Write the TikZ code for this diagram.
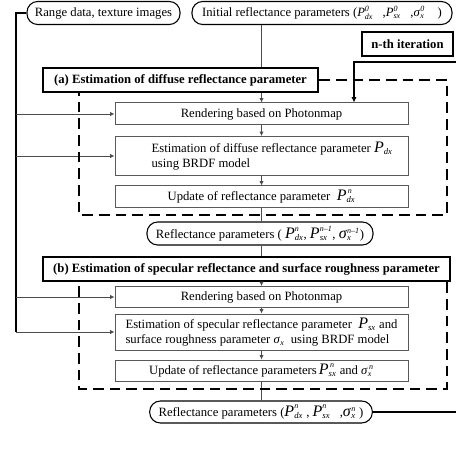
\documentclass[tikz,border=0pt]{standalone}
\usepackage{fontspec}
\setmainfont{Liberation Serif}
\usetikzlibrary{arrows.meta}
% italic symbol with stacked super/subscripts, set in the text font
\newcommand{\rsym}[3]{\ensuremath{\mbox{\textit{#1}}^{\mbox{\fontsize{6}{6}\selectfont\textit{#2}}}_{\mbox{\fontsize{6}{6}\selectfont\textit{#3}}}}}
\newcommand{\bigsym}[3]{\ensuremath{\mbox{\fontsize{12}{12}\selectfont\textit{#1}}^{\mbox{\fontsize{6}{6}\selectfont\textit{#2}}}_{\mbox{\fontsize{6.5}{6.5}\selectfont\textit{#3}}}}}
\begin{document}
\begin{tikzpicture}[x=0.75pt,y=-0.75pt,
  txt/.style={font=\fontsize{9.5}{12}\selectfont},
  flow/.style={txt, draw=black!65, line width=0.75pt, minimum width=219.75pt, inner sep=2pt},
  pill/.style={txt, draw=black, line width=0.8pt, rounded corners=8pt, inner sep=2pt},
  hdr/.style={draw=black, line width=2pt, inner sep=2pt, font=\fontsize{9.5}{11}\selectfont\bfseries},
  conn/.style={draw=black!70, line width=0.6pt},
  arr/.style={conn, -{Latex[length=3.2pt,width=3.2pt]}},
  lft/.style={draw=black, line width=1.2pt},
  dsh/.style={draw=black, line width=1.6pt, dash pattern=on 8pt off 4.5pt},
  fbk/.style={draw=black, line width=1.4pt, -{Latex[length=4pt,width=4pt]}}]
\path[use as bounding box] (0,0) rectangle (456,452);
\clip (0,0) rectangle (456,452);

% top inputs
\node[pill, minimum width=114.75pt, minimum height=17.25pt] (range) at (103.5,13) {Range data, texture images};
\node[pill, minimum width=195pt, minimum height=17.25pt] (init) at (322,13)
  {Initial reflectance parameters (\rsym{P}{0}{dx}\ \ \ ,\rsym{P}{0}{sx}\ \ \ ,\rsym{σ}{0}{x}\ \ \ \ )};

% iteration label
\node[hdr, minimum width=68.25pt, minimum height=18pt] (iter) at (407.5,44) {n-th iteration};

% (a) stage
\node[hdr, minimum width=206.25pt, minimum height=18pt] (abox) at (180.5,80) {(a) Estimation of diffuse reflectance parameter};
\node[flow, minimum height=16.5pt] (ra) at (261.5,114) {Rendering based on Photonmap};
\node[flow, minimum height=29.25pt, align=left] (ea) at (261.5,156)
  {\hspace*{16pt}Estimation of diffuse reflectance parameter \bigsym{P}{}{dx}\\[-1pt]\hspace*{16pt}using BRDF model};
\node[flow, minimum height=15.75pt] (ua) at (261.5,196.5) {Update of reflectance parameter\ \ \bigsym{P}{\,n}{dx}};

\node[pill, minimum width=169.5pt, minimum height=17.25pt] (mid) at (260,233.5)
  {Reflectance parameters (\ \bigsym{P}{n}{dx}, \bigsym{P}{n\textendash1}{sx}, \bigsym{σ}{n\textendash1}{x})};

% (b) stage
\node[hdr, minimum width=305.25pt, minimum height=18pt] (bbox) at (246.5,269) {(b) Estimation of specular reflectance and surface roughness parameter};
\node[flow, minimum height=15.75pt] (rb) at (261.5,297) {Rendering based on Photonmap};
\node[flow, minimum height=27pt, align=left] (eb) at (261.5,332)
  {Estimation of specular reflectance parameter\ \ \bigsym{P}{}{sx} and\\[-1pt]surface roughness parameter \rsym{σ}{}{x}\ \ using BRDF model};
\node[flow, minimum height=15.75pt] (ub) at (261.5,370.5)
  {Update of reflectance parameters\,\bigsym{P}{\,n}{sx} and \rsym{σ}{\,n}{x}};

\node[pill, minimum width=167pt, minimum height=16.5pt] (bot) at (261,412)
  {Reflectance parameters (\bigsym{P}{n}{dx} , \bigsym{P}{n}{sx}\ \ \ ,\bigsym{σ}{n}{x}\ )};

% coordinates
\coordinate (L0) at (16,13);
\coordinate (da1) at (447,215);
\coordinate (da2) at (79,215);
\coordinate (db1) at (447,389);
\coordinate (db2) at (79,389);
\coordinate (fbR) at (470,62);
\coordinate (fbT) at (354,62);

% main vertical connectors
\draw[conn] (ra.north |- init.south) -- (ra.north |- abox.north);
\draw[arr] (ra.north |- abox.south) -- (ra.north);
\draw[arr] (ra) -- (ea);
\draw[arr] (ea) -- (ua);
\draw[conn] (ua.south) -- (ua.south |- mid.north);
\draw[conn] (ua.south |- mid.south) -- (ua.south |- bbox.north);
\draw[arr] (rb.north |- bbox.south) -- (rb.north);
\draw[arr] (rb) -- (eb);
\draw[arr] (eb) -- (ub);
\draw[conn] (ub.south) -- (ub.south |- bot.north);

% left input line
\draw[lft] (range.west) -- (L0) -- (L0 |- eb.west);
\draw[arr] (L0 |- ra.west) -- (ra.west);
\draw[arr] (L0 |- ea.west) -- (ea.west);
\draw[arr] (L0 |- rb.west) -- (rb.west);
\draw[arr] (L0 |- eb.west) -- (eb.west);

% dashed iteration frames
\draw[dsh] (abox.east) -| (da1) -- (da2) -- (da2 |- abox.south);
\draw[dsh] (bbox.south -| db1) -- (db1) -- (db2) -- (db2 |- bbox.south);

% feedback loop
\draw[fbk] (bot.east) -| (fbR) -- (fbT) -- (fbT |- ra.north);
\end{tikzpicture}
\end{document}
